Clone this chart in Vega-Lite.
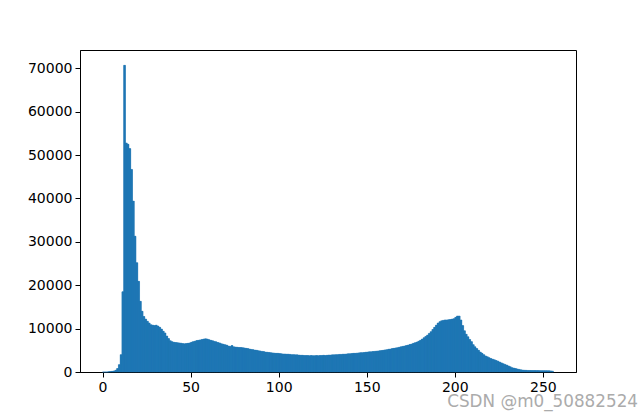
{
  "$schema": "https://vega.github.io/schema/vega-lite/v6.json",
  "width": 496,
  "height": 322,
  "autosize": {"type": "none"},
  "padding": {"left": 80, "top": 50, "right": 64, "bottom": 46},
  "background": "white",
  "title": {
    "text": "CSDN @m0_50882524",
    "orient": "bottom",
    "anchor": "end",
    "frame": "group",
    "dx": 62,
    "offset": 0,
    "font": "DejaVu Sans",
    "fontSize": 16.8,
    "fontWeight": "normal",
    "color": "#ababab"
  },
  "config": {
    "font": "DejaVu Sans",
    "view": {"stroke": "black", "strokeWidth": 1},
    "axis": {
      "grid": false,
      "domainColor": "black",
      "tickColor": "black",
      "tickSize": 5,
      "labelFontSize": 14,
      "labelColor": "black",
      "labelFont": "DejaVu Sans",
      "labelPadding": 3,
      "title": null
    }
  },
  "data": {
    "values": [
      {"x0":0,"x1":1,"n":0},{"x0":1,"x1":2,"n":0},{"x0":2,"x1":3,"n":0},{"x0":3,"x1":4,"n":50},
      {"x0":4,"x1":5,"n":100},{"x0":5,"x1":6,"n":150},{"x0":6,"x1":7,"n":250},{"x0":7,"x1":8,"n":400},
      {"x0":8,"x1":9,"n":800},{"x0":9,"x1":10,"n":1700},{"x0":10,"x1":11,"n":4000},{"x0":11,"x1":12,"n":18500},
      {"x0":12,"x1":13,"n":70700},{"x0":13,"x1":14,"n":52800},{"x0":14,"x1":15,"n":52500},{"x0":15,"x1":16,"n":51500},
      {"x0":16,"x1":17,"n":46700},{"x0":17,"x1":18,"n":39400},{"x0":18,"x1":19,"n":31300},{"x0":19,"x1":20,"n":25200},
      {"x0":20,"x1":21,"n":20900},{"x0":21,"x1":22,"n":16300},{"x0":22,"x1":23,"n":14000},{"x0":23,"x1":24,"n":12800},
      {"x0":24,"x1":25,"n":12200},{"x0":25,"x1":26,"n":11700},{"x0":26,"x1":27,"n":11300},{"x0":27,"x1":28,"n":10900},
      {"x0":28,"x1":29,"n":10800},{"x0":29,"x1":30,"n":10700},{"x0":30,"x1":31,"n":10800},{"x0":31,"x1":32,"n":10600},
      {"x0":32,"x1":33,"n":10300},{"x0":33,"x1":34,"n":9900},{"x0":34,"x1":35,"n":9400},{"x0":35,"x1":36,"n":9000},
      {"x0":36,"x1":37,"n":8300},{"x0":37,"x1":38,"n":7700},{"x0":38,"x1":39,"n":7200},{"x0":39,"x1":40,"n":7000},
      {"x0":40,"x1":41,"n":6850},{"x0":41,"x1":42,"n":6800},{"x0":42,"x1":43,"n":6750},{"x0":43,"x1":44,"n":6700},
      {"x0":44,"x1":45,"n":6650},{"x0":45,"x1":46,"n":6550},{"x0":46,"x1":47,"n":6500},{"x0":47,"x1":48,"n":6550},
      {"x0":48,"x1":49,"n":6600},{"x0":49,"x1":50,"n":6700},{"x0":50,"x1":51,"n":6850},{"x0":51,"x1":52,"n":7000},
      {"x0":52,"x1":53,"n":7100},{"x0":53,"x1":54,"n":7250},{"x0":54,"x1":55,"n":7300},{"x0":55,"x1":56,"n":7400},
      {"x0":56,"x1":57,"n":7500},{"x0":57,"x1":58,"n":7600},{"x0":58,"x1":59,"n":7650},{"x0":59,"x1":60,"n":7600},
      {"x0":60,"x1":61,"n":7450},{"x0":61,"x1":62,"n":7300},{"x0":62,"x1":63,"n":7200},{"x0":63,"x1":64,"n":7050},
      {"x0":64,"x1":65,"n":6950},{"x0":65,"x1":66,"n":6800},{"x0":66,"x1":67,"n":6700},{"x0":67,"x1":68,"n":6500},
      {"x0":68,"x1":69,"n":6400},{"x0":69,"x1":70,"n":6300},{"x0":70,"x1":71,"n":6200},{"x0":71,"x1":72,"n":6000},
      {"x0":72,"x1":73,"n":5900},{"x0":73,"x1":74,"n":6100},{"x0":74,"x1":75,"n":5800},{"x0":75,"x1":76,"n":5750},
      {"x0":76,"x1":77,"n":5700},{"x0":77,"x1":78,"n":5650},{"x0":78,"x1":79,"n":5650},{"x0":79,"x1":80,"n":5600},
      {"x0":80,"x1":81,"n":5550},{"x0":81,"x1":82,"n":5450},{"x0":82,"x1":83,"n":5400},{"x0":83,"x1":84,"n":5300},
      {"x0":84,"x1":85,"n":5200},{"x0":85,"x1":86,"n":5150},{"x0":86,"x1":87,"n":5050},{"x0":87,"x1":88,"n":5000},
      {"x0":88,"x1":89,"n":4900},{"x0":89,"x1":90,"n":4850},{"x0":90,"x1":91,"n":4750},{"x0":91,"x1":92,"n":4700},
      {"x0":92,"x1":93,"n":4600},{"x0":93,"x1":94,"n":4550},{"x0":94,"x1":95,"n":4500},{"x0":95,"x1":96,"n":4450},
      {"x0":96,"x1":97,"n":4400},{"x0":97,"x1":98,"n":4350},{"x0":98,"x1":99,"n":4300},{"x0":99,"x1":100,"n":4300},
      {"x0":100,"x1":101,"n":4250},{"x0":101,"x1":102,"n":4200},{"x0":102,"x1":103,"n":4150},{"x0":103,"x1":104,"n":4150},
      {"x0":104,"x1":105,"n":4100},{"x0":105,"x1":106,"n":4100},{"x0":106,"x1":107,"n":4050},{"x0":107,"x1":108,"n":4000},
      {"x0":108,"x1":109,"n":4000},{"x0":109,"x1":110,"n":3950},{"x0":110,"x1":111,"n":3950},{"x0":111,"x1":112,"n":3900},
      {"x0":112,"x1":113,"n":3850},{"x0":113,"x1":114,"n":3850},{"x0":114,"x1":115,"n":3800},{"x0":115,"x1":116,"n":3800},
      {"x0":116,"x1":117,"n":3800},{"x0":117,"x1":118,"n":3750},{"x0":118,"x1":119,"n":3800},{"x0":119,"x1":120,"n":3750},
      {"x0":120,"x1":121,"n":3750},{"x0":121,"x1":122,"n":3800},{"x0":122,"x1":123,"n":3750},{"x0":123,"x1":124,"n":3800},
      {"x0":124,"x1":125,"n":3800},{"x0":125,"x1":126,"n":3850},{"x0":126,"x1":127,"n":3800},{"x0":127,"x1":128,"n":3850},
      {"x0":128,"x1":129,"n":3900},{"x0":129,"x1":130,"n":3900},{"x0":130,"x1":131,"n":3950},{"x0":131,"x1":132,"n":3950},
      {"x0":132,"x1":133,"n":4000},{"x0":133,"x1":134,"n":4000},{"x0":134,"x1":135,"n":4050},{"x0":135,"x1":136,"n":4050},
      {"x0":136,"x1":137,"n":4100},{"x0":137,"x1":138,"n":4100},{"x0":138,"x1":139,"n":4150},{"x0":139,"x1":140,"n":4200},
      {"x0":140,"x1":141,"n":4200},{"x0":141,"x1":142,"n":4250},{"x0":142,"x1":143,"n":4300},{"x0":143,"x1":144,"n":4300},
      {"x0":144,"x1":145,"n":4350},{"x0":145,"x1":146,"n":4400},{"x0":146,"x1":147,"n":4450},{"x0":147,"x1":148,"n":4450},
      {"x0":148,"x1":149,"n":4500},{"x0":149,"x1":150,"n":4550},{"x0":150,"x1":151,"n":4600},{"x0":151,"x1":152,"n":4650},
      {"x0":152,"x1":153,"n":4650},{"x0":153,"x1":154,"n":4700},{"x0":154,"x1":155,"n":4750},{"x0":155,"x1":156,"n":4800},
      {"x0":156,"x1":157,"n":4850},{"x0":157,"x1":158,"n":4900},{"x0":158,"x1":159,"n":4950},{"x0":159,"x1":160,"n":5000},
      {"x0":160,"x1":161,"n":5100},{"x0":161,"x1":162,"n":5150},{"x0":162,"x1":163,"n":5250},{"x0":163,"x1":164,"n":5300},
      {"x0":164,"x1":165,"n":5400},{"x0":165,"x1":166,"n":5450},{"x0":166,"x1":167,"n":5550},{"x0":167,"x1":168,"n":5600},
      {"x0":168,"x1":169,"n":5700},{"x0":169,"x1":170,"n":5800},{"x0":170,"x1":171,"n":5900},{"x0":171,"x1":172,"n":6000},
      {"x0":172,"x1":173,"n":6100},{"x0":173,"x1":174,"n":6200},{"x0":174,"x1":175,"n":6350},{"x0":175,"x1":176,"n":6450},
      {"x0":176,"x1":177,"n":6600},{"x0":177,"x1":178,"n":6750},{"x0":178,"x1":179,"n":6900},{"x0":179,"x1":180,"n":7100},
      {"x0":180,"x1":181,"n":7300},{"x0":181,"x1":182,"n":7600},{"x0":182,"x1":183,"n":7900},{"x0":183,"x1":184,"n":8200},
      {"x0":184,"x1":185,"n":8500},{"x0":185,"x1":186,"n":8900},{"x0":186,"x1":187,"n":9300},{"x0":187,"x1":188,"n":9800},
      {"x0":188,"x1":189,"n":10300},{"x0":189,"x1":190,"n":10800},{"x0":190,"x1":191,"n":11300},{"x0":191,"x1":192,"n":11600},
      {"x0":192,"x1":193,"n":11800},{"x0":193,"x1":194,"n":11900},{"x0":194,"x1":195,"n":12000},{"x0":195,"x1":196,"n":12000},
      {"x0":196,"x1":197,"n":12050},{"x0":197,"x1":198,"n":12100},{"x0":198,"x1":199,"n":12200},{"x0":199,"x1":200,"n":12300},
      {"x0":200,"x1":201,"n":12600},{"x0":201,"x1":202,"n":12900},{"x0":202,"x1":203,"n":12900},{"x0":203,"x1":204,"n":12000},
      {"x0":204,"x1":205,"n":10700},{"x0":205,"x1":206,"n":9500},{"x0":206,"x1":207,"n":8700},{"x0":207,"x1":208,"n":8100},
      {"x0":208,"x1":209,"n":7500},{"x0":209,"x1":210,"n":7000},{"x0":210,"x1":211,"n":6300},{"x0":211,"x1":212,"n":5800},
      {"x0":212,"x1":213,"n":5400},{"x0":213,"x1":214,"n":5000},{"x0":214,"x1":215,"n":4600},{"x0":215,"x1":216,"n":4300},
      {"x0":216,"x1":217,"n":4000},{"x0":217,"x1":218,"n":3700},{"x0":218,"x1":219,"n":3500},{"x0":219,"x1":220,"n":3300},
      {"x0":220,"x1":221,"n":3100},{"x0":221,"x1":222,"n":2950},{"x0":222,"x1":223,"n":2800},{"x0":223,"x1":224,"n":2650},
      {"x0":224,"x1":225,"n":2500},{"x0":225,"x1":226,"n":2300},{"x0":226,"x1":227,"n":2100},{"x0":227,"x1":228,"n":1900},
      {"x0":228,"x1":229,"n":1750},{"x0":229,"x1":230,"n":1600},{"x0":230,"x1":231,"n":1400},{"x0":231,"x1":232,"n":1200},
      {"x0":232,"x1":233,"n":1000},{"x0":233,"x1":234,"n":900},{"x0":234,"x1":235,"n":800},{"x0":235,"x1":236,"n":700},
      {"x0":236,"x1":237,"n":600},{"x0":237,"x1":238,"n":500},{"x0":238,"x1":239,"n":450},{"x0":239,"x1":240,"n":400},
      {"x0":240,"x1":241,"n":380},{"x0":241,"x1":242,"n":360},{"x0":242,"x1":243,"n":350},{"x0":243,"x1":244,"n":340},
      {"x0":244,"x1":245,"n":330},{"x0":245,"x1":246,"n":330},{"x0":246,"x1":247,"n":320},{"x0":247,"x1":248,"n":320},
      {"x0":248,"x1":249,"n":310},{"x0":249,"x1":250,"n":310},{"x0":250,"x1":251,"n":300},{"x0":251,"x1":252,"n":300},
      {"x0":252,"x1":253,"n":290},{"x0":253,"x1":254,"n":280},{"x0":254,"x1":255,"n":250},{"x0":255,"x1":256,"n":200}
    ]
  },
  "encoding": {
    "x": {
      "field": "x0",
      "type": "quantitative",
      "scale": {"domain": [-12.8, 268.8], "nice": false, "zero": false},
      "axis": {"values": [0, 50, 100, 150, 200, 250], "format": "d"}
    },
    "y": {
      "field": "n",
      "type": "quantitative",
      "scale": {"domain": [0, 74235], "nice": false},
      "axis": {"values": [0, 10000, 20000, 30000, 40000, 50000, 60000, 70000], "format": "d"}
    }
  },
  "layer": [
    {
      "mark": {"type": "area", "interpolate": "step-after", "color": "#1f77b4", "opacity": 1}
    },
    {
      "mark": {"type": "bar", "color": "#1f77b4", "stroke": "#1f77b4", "strokeWidth": 0.5},
      "encoding": {
        "x2": {"field": "x1"},
        "y2": {"datum": 0}
      }
    }
  ]
}
